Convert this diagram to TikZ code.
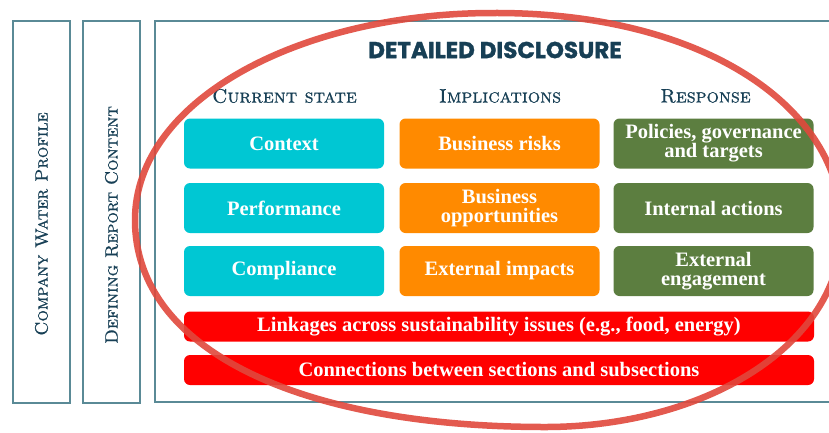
\documentclass[tikz,border=0pt]{standalone}
\usepackage{fontspec}
\newfontfamily\boxfont{Liberation Serif}
\newfontfamily\titlefont[BoldFeatures={FakeBold=1.4}]{Poppins}
\newfontfamily\scfont[FakeBold=0.8]{lmromancaps10-regular.otf}
\definecolor{cyanbox}{HTML}{00C7D3}
\definecolor{orangebox}{HTML}{FF8A00}
\definecolor{greenbox}{HTML}{5C7E40}
\definecolor{redbar}{HTML}{FF0000}
\definecolor{frameline}{HTML}{5A8A96}
\definecolor{darkteal}{HTML}{173F55}
\definecolor{ringred}{HTML}{E0483C}
\tikzset{
  panel/.style={draw=frameline, line width=1.3pt},
  cell/.style={rounded corners=6pt, minimum width=200pt, minimum height=50pt,
    text=white, font=\boxfont\bfseries\fontsize{20.5}{19}\selectfont, align=center, inner sep=0pt},
  cur/.style={cell, fill=cyanbox},
  imp/.style={cell, fill=orangebox},
  res/.style={cell, fill=greenbox},
  bar/.style={cell, fill=redbar, minimum width=630pt, minimum height=30pt},
  colhead/.style={text=darkteal, font=\scfont\fontsize{19.5}{19}\selectfont, inner sep=0pt},
  sidehead/.style={text=darkteal, font=\scfont\fontsize{18}{18}\selectfont, inner sep=0pt, rotate=90},
  ring/.style={draw=ringred, line width=6.5pt, opacity=0.9}
}
\begin{document}
\begin{tikzpicture}[x=1pt,y=-1pt]
\useasboundingbox (0,0) rectangle (829,432);
% frames
\node[panel, minimum width=57pt, minimum height=382pt, inner sep=0pt] (profile) at (41.5,212) {};
\node[panel, minimum width=57pt, minimum height=382pt, inner sep=0pt] (defining) at (111.5,212) {};
\draw[panel] (845,21) -- (155,21) -- (155,402) -- (845,402);
\node[sidehead] (profiletext) at (41.5,224) {Company Water Profile};
\node[sidehead] (definingtext) at (111.5,225) {Defining Report Content};
% title
\node[text=darkteal, font=\titlefont\bfseries\fontsize{23}{23}\selectfont, inner sep=0pt] (title) at (495,50) {DETAILED DISCLOSURE};
% column heads
\node[colhead] (h1) at (284.5,96) {Current state};
\node[colhead] (h2) at (500,96) {Implications};
\node[colhead] (h3) at (705.5,96) {Response};
% cells
\node[cur] (context) at (284,143.5) {Context};
\node[cur] (performance) at (284,208) {Performance};
\node[cur] (compliance) at (284,271) {Compliance};
\node[imp] (risks) at (499.5,143.5) {Business risks};
\node[imp] (opps) at (499.5,208) {Business\\opportunities};
\node[imp] (impacts) at (499.5,271) {External impacts};
\node[res] (policies) at (713.5,143.5) {Policies, governance\\and targets};
\node[res] (internal) at (713.5,208) {Internal actions};
\node[res] (external) at (713.5,271) {External\\engagement};
\node[bar] (linkages) at (499,326.5) {Linkages across sustainability issues (e.g., food, energy)};
\node[bar] (connections) at (499,370) {Connections between sections and subsections};
% ring
\coordinate (rtop) at (493,13);
\coordinate (rright) at (842,228);
\coordinate (rbottom) at (545,427);
\coordinate (rleft) at (135,220);
\draw[ring] (rtop) .. controls (700,12) and (842,105) .. (rright)
  .. controls (842,345) and (705,427) .. (rbottom)
  .. controls (300,427) and (135,350) .. (rleft)
  .. controls (135,100) and (300,13) .. (rtop) -- cycle;
\end{tikzpicture}
\end{document}
